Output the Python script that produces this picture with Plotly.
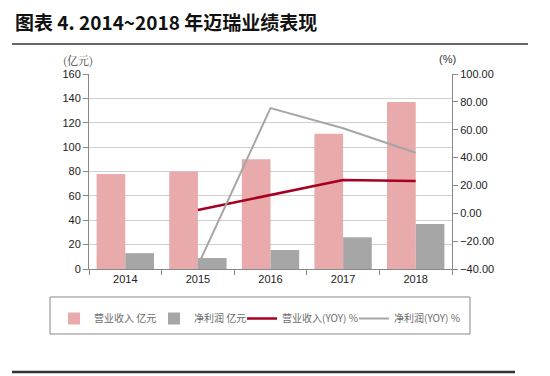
import plotly.graph_objects as go

years = ["2014", "2015", "2016", "2017", "2018"]
revenue = [78, 80, 90, 111, 137]
net_profit = [13, 9, 15.6, 26, 37]
revenue_yoy = [None, 2.4, 13, 23.9, 23.2]
profit_yoy = [None, -37.5, 75.5, 61, 43.5]

# screen-space plot area (page body has an 8px margin)
O = 8
L, R, T, B = 89, 452, 74, 269
W, H = 550, 376
def px(x): return (x - L) / (R - L)
def py(y): return (B - y) / (B - T)
def cx(x): return (x - O) / W          # container coords
def cy(y): return 1 - (y - O) / H

cjk = "Noto Sans CJK SC"
num = "Liberation Sans Narrow, Liberation Sans, Arial"

fig = go.Figure()
fig.add_trace(go.Bar(x=years, y=revenue, name="营业收入 亿元", marker_color="#E8AAAA", marker_line_width=0,
                     legend="legend"))
fig.add_trace(go.Bar(x=years, y=net_profit, name="净利润 亿元", marker_color="#A6A6A6", marker_line_width=0,
                     legend="legend2"))
fig.add_trace(go.Scatter(x=years, y=revenue_yoy, name="营业收入(YOY) %", yaxis="y2", mode="lines",
                         line=dict(color="#A50021", width=2.5), legend="legend3"))
fig.add_trace(go.Scatter(x=years, y=profit_yoy, name="净利润(YOY) %", yaxis="y2", mode="lines",
                         line=dict(color="#A6A6A6", width=2), legend="legend4"))

def leg(xs):
    return dict(orientation="h", xref="container", yref="container",
                x=cx(xs), y=cy(304), xanchor="left", yanchor="top",
                font=dict(family=cjk, size=10, color="#6b6b6b"),
                itemwidth=30, bgcolor="rgba(0,0,0,0)")

fig.update_layout(
    width=W, height=H,
    margin=dict(l=L - O, r=W - (R - O), t=T - O, b=H - (B - O), autoexpand=False),
    paper_bgcolor="white", plot_bgcolor="white",
    barmode="group", bargap=0.21, bargroupgap=0,
    showlegend=True,
    legend=leg(54), legend2=leg(154), legend3=leg(242), legend4=leg(354),
    xaxis=dict(type="category", showgrid=False, showline=True, linecolor="#888888", linewidth=1,
               ticks="outside", tickson="boundaries", ticklen=5, tickcolor="#888888",
               tickfont=dict(family=num, size=11, color="#222222")),
    yaxis=dict(range=[0, 160], dtick=20, showgrid=True, gridcolor="#D0D0D0", gridwidth=1,
               showline=True, linecolor="#888888", ticks="outside", ticklen=5, tickcolor="#888888",
               zeroline=False, tickfont=dict(family=num, size=11, color="#222222")),
    yaxis2=dict(range=[-40, 100], dtick=20, overlaying="y", side="right", showgrid=False,
                showline=True, linecolor="#888888", ticks="outside", ticklen=5, tickcolor="#888888",
                zeroline=False, tickformat=".2f", tickfont=dict(family=num, size=11, color="#222222")),
    font=dict(family=num),
)

fig.add_annotation(text="<b>图表 4. 2014~2018 年迈瑞业绩表现</b>", xref="paper", yref="paper",
                   x=px(13), y=py(21), xanchor="left", yanchor="middle", showarrow=False,
                   font=dict(family=cjk, size=19, color="#111111"))
fig.add_annotation(text="(亿元)", xref="paper", yref="paper", x=px(78), y=py(60),
                   xanchor="center", yanchor="middle", showarrow=False,
                   font=dict(family="Noto Serif CJK SC, " + cjk, size=11, color="#444444"))
fig.add_annotation(text="(%)", xref="paper", yref="paper", x=px(447), y=py(59),
                   xanchor="center", yanchor="middle", showarrow=False,
                   font=dict(family=num, size=11, color="#333333"))

fig.add_shape(type="line", xref="paper", yref="paper", x0=px(12), x1=px(528), y0=py(44), y1=py(44),
              line=dict(color="#333333", width=1.5))
fig.add_shape(type="line", xref="paper", yref="paper", x0=px(12), x1=px(515), y0=py(372), y1=py(372),
              line=dict(color="#333333", width=2.5))
fig.add_shape(type="rect", xref="paper", yref="paper", x0=px(50), x1=px(470), y0=py(297), y1=py(334),
              line=dict(color="#888888", width=1))

fig.write_html("out.html")
